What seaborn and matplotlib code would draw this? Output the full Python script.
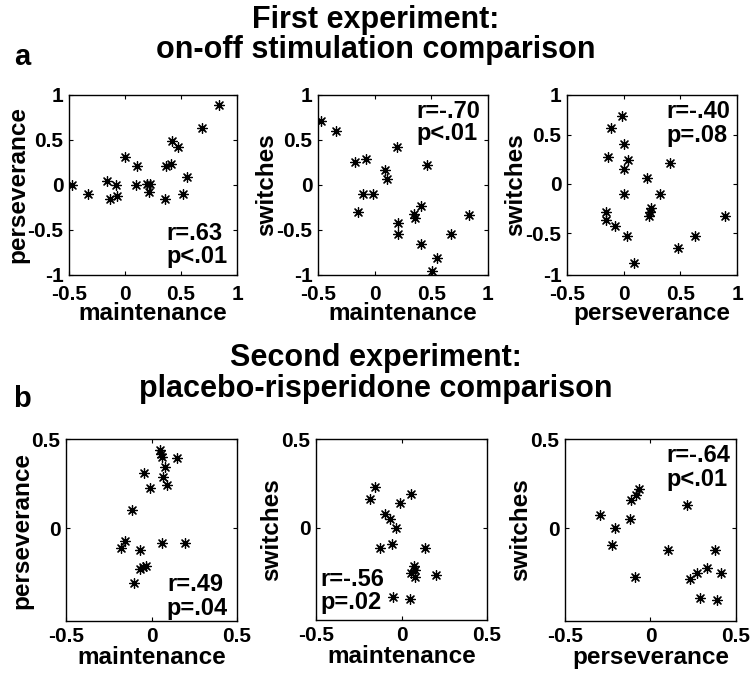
import numpy as np
import pandas as pd
import matplotlib
matplotlib.use("Agg")
import matplotlib.pyplot as plt
import seaborn as sns

# ---- values ----
# first experiment (on-off stimulation)
a_maint_x = [-0.47, -0.33, -0.16, -0.08, -0.135, -0.07, 0.0, 0.10, 0.11, 0.20, 0.22,
             0.215, 0.36, 0.365, 0.41, 0.42, 0.475, 0.52, 0.55, 0.685, 0.84]
a_persev_y = [0.0, -0.10, 0.04, 0.0, -0.155, -0.125, 0.315, 0.0, 0.215, 0.01, 0.01,
              -0.08, -0.155, 0.215, 0.235, 0.485, 0.42, -0.10, 0.085, 0.63, 0.89]

b_maint_x = [-0.47, -0.34, -0.17, -0.077, -0.10, -0.015, -0.145, 0.09, 0.11, 0.20, 0.205,
             0.205, 0.35, 0.36, 0.41, 0.46, 0.41, 0.55, 0.51, 0.675, 0.83]
b_switch_y = [0.715, 0.596, 0.25, 0.29, -0.10, -0.10, -0.296, 0.17, 0.067, 0.42, -0.426,
              -0.545, -0.32, -0.37, -0.237, 0.22, -0.656, -0.81, -0.96, -0.545, -0.33]

c_persev_x = [-0.018, -0.11, 0.0, -0.14, 0.04, 0.0, 0.21, 0.41, 0.0, 0.32, -0.16,
              -0.16, -0.08, 0.03, 0.24, 0.22, 0.23, 0.095, 0.48, 0.63, 0.89]
c_switch_y = [0.69, 0.57, 0.40, 0.27, 0.24, 0.15, 0.06, 0.215, -0.10, -0.10, -0.28,
              -0.36, -0.42, -0.53, -0.24, -0.32, -0.28, -0.80, -0.65, -0.53, -0.32]

# second experiment (placebo-risperidone)
d_maint_x = [0.049, 0.057, 0.063, 0.151, -0.045, 0.076, 0.067, 0.088, -0.01, -0.114,
             -0.153, -0.178, -0.065, 0.059, 0.196, -0.065, -0.035, -0.05, -0.10]
d_persev_y = [0.436, 0.415, 0.40, 0.396, 0.311, 0.345, 0.289, 0.245, 0.223, 0.10,
              -0.07, -0.111, -0.12, -0.085, -0.085, -0.23, -0.21, -0.22, -0.305]

e_maint_x = [-0.156, -0.185, 0.056, -0.006, -0.094, -0.068, -0.031, -0.123, -0.055,
             0.14, 0.072, 0.053, 0.078, 0.199, -0.051, 0.05, 0.08]
e_switch_y = [0.228, 0.16, 0.19, 0.14, 0.075, 0.05, 0.0, -0.113, -0.094,
              -0.117, -0.215, -0.255, -0.277, -0.268, -0.39, -0.40, -0.24]

f_persev_x = [-0.298, -0.21, -0.224, -0.117, -0.111, -0.084, -0.068, -0.088, 0.103,
              0.214, 0.38, 0.331, 0.273, 0.23, 0.413, 0.288, 0.39]
f_switch_y = [0.075, 0.0, -0.094, 0.049, 0.157, 0.185, 0.219, -0.274, -0.121,
              0.132, -0.121, -0.221, -0.253, -0.283, -0.253, -0.39, -0.40]

stats = [("r=.63", "p<.01"), ("r=-.70", "p<.01"), ("r=-.40", "p=.08"),
         ("r=.49", "p=.04"), ("r=-.56", "p=.02"), ("r=-.64", "p<.01")]
xlabels = ["maintenance", "maintenance", "perseverance"] * 2
ylabels = ["perseverance", "switches", "switches"] * 2

top_ticks = [-1, -0.5, 0, 0.5, 1]
top_ticklabels = ["-1", "-0.5", "0", "0.5", "1"]
bot_ticks = [-0.5, 0, 0.5]
bot_ticklabels = ["-0.5", "0", "0.5"]

sns.set_style("ticks")
plt.rcParams["font.family"] = ["Liberation Sans", "DejaVu Sans"]
plt.rcParams["font.weight"] = "bold"
for key in ["text.color", "axes.labelcolor", "xtick.color", "ytick.color", "axes.edgecolor"]:
    plt.rcParams[key] = "black"

fig = plt.figure(figsize=(7.51, 6.75), dpi=100)

# axes boxes in figure fractions [left, bottom, width, height]
boxes = [[0.0919, 0.5926, 0.2237, 0.2667],
         [0.4234, 0.5926, 0.2264, 0.2667],
         [0.7550, 0.5926, 0.2264, 0.2667],
         [0.0879, 0.0800, 0.2277, 0.2696],
         [0.4208, 0.0815, 0.2277, 0.2681],
         [0.7523, 0.0800, 0.2277, 0.2696]]
text_pos = [(0.58, 0.233, 0.10), (0.58, 0.907, 0.787), (0.586, 0.907, 0.777),
            (0.59, 0.198, 0.07), (0.025, 0.225, 0.097), (0.595, 0.912, 0.775)]

data = [(a_maint_x, a_persev_y), (b_maint_x, b_switch_y), (c_persev_x, c_switch_y),
        (d_maint_x, d_persev_y), (e_maint_x, e_switch_y), (f_persev_x, f_switch_y)]

for i, (xs, ys) in enumerate(data):
    ax = fig.add_axes(boxes[i])
    df = pd.DataFrame({"x": xs, "y": ys})
    sns.scatterplot(data=df, x="x", y="y", marker=(8, 2, 0), color="k",
                    s=50, linewidth=0.9, ax=ax, legend=False)
    if i < 3:
        ax.set_xlim(-0.5, 1)
        ax.set_xticks([-0.5, 0, 0.5, 1])
        ax.set_xticklabels(["-0.5", "0", "0.5", "1"])
        if i == 2:
            ax.set_ylim(-0.92, 0.90)
            ax.set_yticks([-0.92, -0.5, 0, 0.5, 0.90])
        else:
            ax.set_ylim(-1, 1)
            ax.set_yticks(top_ticks)
        ax.set_yticklabels(top_ticklabels)
        xpad, xlpad = 7, -1
    else:
        ax.set_xlim(-0.5, 0.5)
        ax.set_xticks(bot_ticks)
        ax.set_xticklabels(bot_ticklabels)
        ax.set_ylim(-0.52, 0.5)
        ax.set_yticks([0, 0.5])
        ax.set_yticklabels(["0", "0.5"])
        xpad, xlpad = 4, 0
    ax.tick_params(direction="in", length=3, width=0.8, top=True, right=True,
                   labelsize=15, colors="black")
    ax.tick_params(axis="x", pad=xpad)
    ax.tick_params(axis="y", pad=4)
    for lab in ax.get_xticklabels() + ax.get_yticklabels():
        lab.set_fontweight("bold")
    for sp in ax.spines.values():
        sp.set_visible(True)
        sp.set_linewidth(1.0)
        sp.set_color("black")
    ax.set_xlabel(xlabels[i], fontsize=17.5, fontweight="bold", labelpad=xlpad)
    ax.set_ylabel(ylabels[i], fontsize=17.5, fontweight="bold", labelpad=-1.5)
    tx, ty1, ty2 = text_pos[i]
    ax.text(tx, ty1, stats[i][0], transform=ax.transAxes, fontsize=17,
            fontweight="bold", va="center", ha="left")
    ax.text(tx, ty2, stats[i][1], transform=ax.transAxes, fontsize=17,
            fontweight="bold", va="center", ha="left")

fig.text(0.5, 1 - 20 / 675, "First experiment:", ha="center", va="center",
         fontsize=22, fontweight="bold")
fig.text(0.5, 1 - 50 / 675, "on-off stimulation comparison", ha="center", va="center",
         fontsize=22, fontweight="bold")
fig.text(22 / 751, 1 - 57 / 675, "a", ha="center", va="center", fontsize=21, fontweight="bold")
fig.text(0.5, 1 - 358 / 675, "Second experiment:", ha="center", va="center",
         fontsize=22, fontweight="bold")
fig.text(0.5, 1 - 389 / 675, "placebo-risperidone comparison", ha="center", va="center",
         fontsize=22, fontweight="bold")
fig.text(22 / 751, 1 - 399 / 675, "b", ha="center", va="center", fontsize=21, fontweight="bold")

fig.savefig("out.png", dpi=100)
